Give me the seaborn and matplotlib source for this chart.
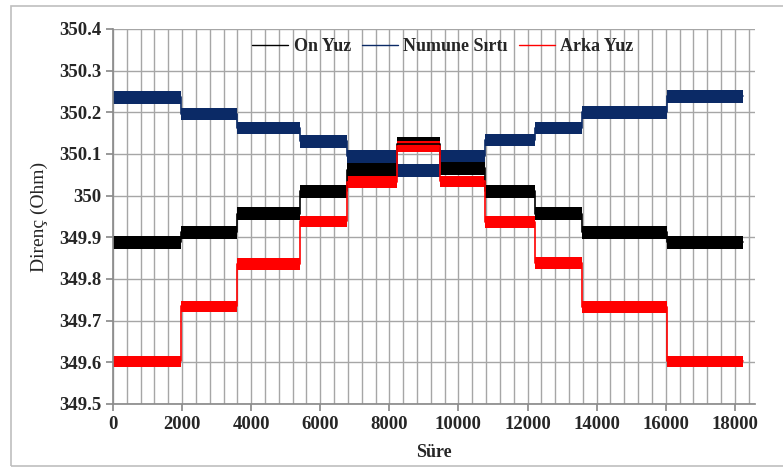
"""
Direnç (Ohm) vs Süre — stepped resistance readings for three faces
"""
import matplotlib
matplotlib.use("Agg")
import matplotlib.pyplot as plt
import seaborn as sns
import pandas as pd
from matplotlib.ticker import MultipleLocator
from matplotlib.patches import Rectangle

# ── data ─────────────────────────────────────────────────────
STEP_EDGES = [0, 1970, 3585, 5420, 6770, 8220, 9460, 10760, 12210, 13570, 16030, 18250]
ON_YUZ     = [349.888, 349.912, 349.957, 350.010, 350.062, 350.125,
              350.066, 350.010, 349.957, 349.912, 349.888]
NUMUNE     = [350.236, 350.196, 350.162, 350.130, 350.094, 350.060,
              350.095, 350.134, 350.162, 350.200, 350.238]
ARKA_YUZ   = [349.602, 349.734, 349.836, 349.938, 350.032, 350.118,
              350.034, 349.937, 349.838, 349.733, 349.602]
SERIES     = ["On Yuz", "Numune Sırtı", "Arka Yuz"]
# typical half-width of the measurement noise band (Ohm)
NOISE      = [0.016, 0.015, 0.014]

COLORS = {"On Yuz": "#000000", "Numune Sırtı": "#0b2a66", "Arka Yuz": "#ff0000"}

rows = []
for name, levels in zip(SERIES, [ON_YUZ, NUMUNE, ARKA_YUZ]):
    for x, y in zip(STEP_EDGES, levels + [levels[-1]]):
        rows.append({"Süre": x, "Direnç": y, "seri": name})
df = pd.DataFrame(rows)

sns.set_theme(style="white")
plt.rcParams["font.family"] = ["Liberation Serif", "DejaVu Serif"]

fig = plt.figure(figsize=(7.83, 4.68), dpi=100)
ax = fig.add_axes([0.1443, 0.1368, 0.8197, 0.8013])

for name, half in zip(SERIES, NOISE):
    d = df[df["seri"] == name]
    c = COLORS[name]
    ax.fill_between(d["Süre"], d["Direnç"] - half, d["Direnç"] + half,
                    step="post", color=c, lw=0)
    sns.lineplot(data=d, x="Süre", y="Direnç", ax=ax, color=c, lw=1.2,
                 drawstyle="steps-post", label=name, estimator=None, sort=False)

ax.set_xlim(0, 18580)
ax.set_ylim(349.5, 350.4)
ax.xaxis.set_major_locator(MultipleLocator(2000))
ax.xaxis.set_minor_locator(MultipleLocator(400))
ax.yaxis.set_major_locator(MultipleLocator(0.1))
ax.yaxis.set_major_formatter(plt.FuncFormatter(lambda v, _: f"{v:.1f}".rstrip("0").rstrip(".")))
ax.grid(True, which="both", color="#a6a6a6", lw=1.0)
ax.set_axisbelow(True)
for s in ["top", "right"]:
    ax.spines[s].set_visible(False)
for s in ["left", "bottom"]:
    ax.spines[s].set_color("#8c8c8c")
ax.tick_params(axis="both", which="major", length=5, color="#8c8c8c",
               labelsize=13.5, direction="out", bottom=True, left=True)
ax.tick_params(axis="x", which="minor", length=0)
for lab in ax.get_xticklabels() + ax.get_yticklabels():
    lab.set_fontweight("bold")

ax.set_xlabel("Süre", fontsize=13, fontweight="bold", labelpad=8)
ax.set_ylabel("Direnç (Ohm)", fontsize=14, labelpad=8)

leg = ax.legend(loc="center", bbox_to_anchor=(0.514, 0.952), ncol=3, frameon=False,
                prop={"weight": "bold", "size": 13}, handlelength=2.0,
                handletextpad=0.3, columnspacing=0.6)
for h in leg.get_lines():
    h.set_linewidth(1.0)
leg.set_zorder(10)

# outer frame around the chart
fig.patches.append(Rectangle((0.014, 0.004), 1.0, 0.984, transform=fig.transFigure,
                             fill=False, edgecolor="#bfbfbf", lw=1.2))

plt.savefig("out.png", dpi=100)
plt.close()
